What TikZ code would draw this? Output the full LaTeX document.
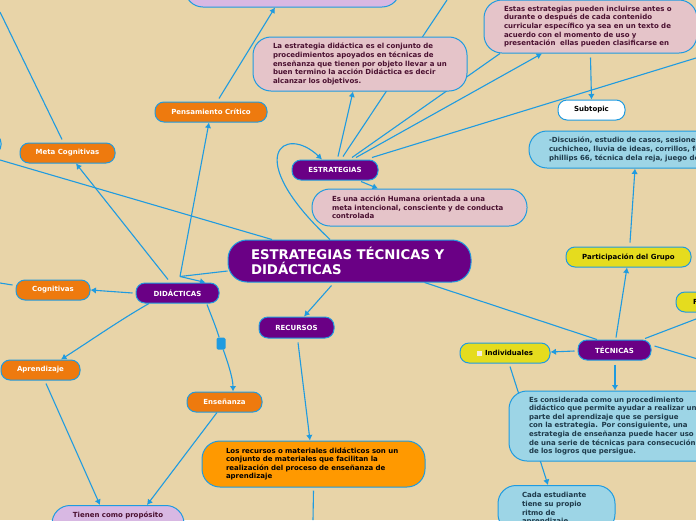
\documentclass[tikz,border=0pt]{standalone}
\usepackage{xcolor}
\usepackage{fontspec}
\setmainfont{DejaVu Sans}
\usetikzlibrary{arrows.meta,backgrounds}
\definecolor{paper}{HTML}{E8D4A8}
\definecolor{wire}{HTML}{1F9BE0}
\definecolor{morado}{HTML}{6A0085}
\definecolor{naranja}{HTML}{EE7A0E}
\definecolor{ambar}{HTML}{FF9900}
\definecolor{rosa}{HTML}{E5C4C9}
\definecolor{celeste}{HTML}{9DD5E6}
\definecolor{amarillo}{HTML}{E5DC1E}
\definecolor{lila}{HTML}{D8B8E3}
\definecolor{vino}{HTML}{4A1030}
\definecolor{pizarra}{HTML}{1E3A4A}
\tikzset{
  small/.style={draw=wire,line width=1pt,rounded corners=9pt,minimum height=20pt,inner sep=0pt,
    font=\fontsize{7}{8}\selectfont\bfseries,align=center},
  big/.style={draw=wire,line width=1pt,rounded corners=18pt,inner ysep=3pt,inner xsep=20pt,
    font=\fontsize{7}{8.6}\selectfont\bfseries,align=left},
  tema/.style={small,fill=morado,text=white},
  naranjo/.style={small,fill=naranja,text=white},
  amarillito/.style={small,fill=amarillo,text=black},
  link/.style={draw=wire,line width=1.1pt},
  arrowlink/.style={link,-{Latex[length=5.5pt,width=6.5pt]}}
}
\begin{document}
\begin{tikzpicture}[x=1pt,y=-1pt]
\useasboundingbox (0,0) rectangle (696,520);
\node[big,fill=morado,text=white,rounded corners=19pt,inner xsep=23pt,text width=197pt,minimum height=42pt,
  font=\fontsize{13.3}{15.5}\selectfont\bfseries] (root) at (349.5,261) {ESTRATEGIAS TÉCNICAS Y\\DIDÁCTICAS};
\node[tema,minimum width=86pt] (estrategias) at (335,170) {ESTRATEGIAS};
\node[tema,minimum width=83pt] (didacticas) at (177.5,293) {DIDÁCTICAS};
\node[tema,minimum width=75pt,minimum height=21pt] (recursos) at (296.5,327.5) {RECURSOS};
\node[tema,minimum width=73pt] (tecnicas) at (614.5,350) {TÉCNICAS};
\node[big,fill=rosa,text=vino,text width=175pt,minimum height=37pt] (accion) at (419.5,207.5)
  {Es una acción Humana orientada a una\\meta intencional, consciente y de conducta\\controlada};
\node[big,fill=rosa,text=vino,text width=174pt,minimum height=54pt] (concepto) at (360,64)
  {La estrategia didáctica es el conjunto de\\procedimientos apoyados en técnicas de\\enseñanza que tienen por objeto llevar a un\\buen termino la acción Didáctica es decir\\alcanzar los objetivos.};
\node[big,fill=rosa,text=vino,text width=173pt,minimum height=53pt] (momento) at (590.5,26.5)
  {Estas estrategias pueden incluirse antes o\\durante o después de cada contenido\\curricular específico ya sea en un texto de\\acuerdo con el momento de uso y\\presentación\ \ ellas pueden clasificarse en};
\node[small,fill=white,text=black,minimum width=67pt] (subtopic) at (591.5,110) {Subtopic};
\node[big,fill=celeste,text=pizarra,text width=202pt,minimum height=37pt] (discusion) at (650,149.5)
  {-Discusión, estudio de casos, sesiones\\cuchicheo, lluvia de ideas, corrillos, fo\\phillips 66, técnica dela reja, juego de};
\node[big,fill=lila,minimum width=215pt,minimum height=47pt,text width=175pt] (cima) at (292.5,-16.5) {};
\node[small,fill=celeste,minimum width=51pt] (borde) at (-24.5,144) {};
\node[naranjo,minimum width=112pt] (pensamiento) at (211,112) {Pensamiento Crítico};
\node[naranjo,minimum width=95pt] (meta) at (67.5,153) {Meta Cognitivas};
\node[naranjo,minimum width=74pt] (cognitivas) at (53,290) {Cognitivas};
\node[naranjo,minimum width=79pt] (aprendizaje) at (40.5,370) {Aprendizaje};
\node[naranjo,minimum width=75pt] (ensenanza) at (224.5,402) {Enseñanza};
\node[big,anchor=north,fill=lila,text=vino,inner xsep=0pt,inner ysep=6pt,text width=132pt,align=center,text depth=30pt] (proposito) at (118,505) {Tienen como propósito};
\node[big,fill=ambar,text=black,inner xsep=24pt,text width=175pt,minimum height=46pt] (material) at (313.5,464)
  {Los recursos o materiales didácticos son un\\conjunto de materiales que facilitan la\\realización del proceso de enseñanza de\\aprendizaje};
\node[amarillito,minimum width=90pt] (individuales) at (505,353) {\hspace{8pt}Individuales};
\node[draw=none,fill=paper!40!white,minimum size=5pt,inner sep=0pt] (icono) at (479.5,353) {};
\node[amarillito,minimum width=125pt] (participacion) at (628.5,257) {Participación del Grupo};
\node[amarillito,minimum width=94pt,text width=60pt,align=left] (grupof) at (723,302) {F};
\node[big,fill=celeste,text=pizarra,text width=220pt,minimum height=70pt] (considerada) at (639,426)
  {Es considerada como un procedimiento\\didáctico que permite ayudar a realizar un\\parte del aprendizaje que se persigue\\con la estrategia. Por consiguiente, una\\estrategia de enseñanza puede hacer uso\\de una serie de técnicas para consecución\\de los logros que persigue.};
\node[big,anchor=north,fill=celeste,text=pizarra,inner xsep=24pt,inner ysep=7pt,text width=69pt] (estudiante) at (556.5,485)
  {Cada estudiante\\tiene su propio\\ritmo de\\aprendizaje};
\node[fill=wire,rounded corners=1.5pt,minimum width=9pt,minimum height=12pt,inner sep=0pt] (tramo) at (221,343.5) {};
\coordinate (codo) at (180,276.5);
\coordinate (fueraSup) at (447,0);
\coordinate (fueraIzq) at (0,160);
\coordinate (fueraMeta) at (0,12);
\coordinate (fueraCog) at (0,283);
\coordinate (fueraDer) at (696,58);
\coordinate (fueraTec) at (696,358.5);
\coordinate (fueraF) at (696,319);
\coordinate (fueraInf) at (313,520);
\begin{scope}[on background layer]
\fill[paper] (0,0) rectangle (696,520);
\draw[arrowlink] ([xshift=-19.5pt]root.north) .. controls (240,155) and (285,124) .. ([xshift=-13pt]estrategias.north);
\draw[link] ([yshift=-10pt]root.west) -- (codo);
\draw[arrowlink] (codo) -- ([xshift=28pt]didacticas.north);
\draw[arrowlink] ([xshift=-18pt,yshift=-3pt]root.south) -- ([xshift=7.5pt]recursos.north);
\draw[link] ([xshift=75pt]root.south) -- ([xshift=-17.5pt]tecnicas.north);
\draw[link] ([xshift=-77.5pt]root.north) -- (fueraIzq);
\draw[arrowlink] (codo) -- ([xshift=-2pt]pensamiento.south);
\draw[arrowlink] ([xshift=-9.5pt,yshift=3pt]didacticas.north) -- ([xshift=8.5pt]meta.south);
\draw[arrowlink] ([xshift=-3pt]didacticas.west) -- (cognitivas.east);
\draw[arrowlink] ([xshift=-28.5pt]didacticas.south) .. controls (120,320) and (90,341) .. ([xshift=20.5pt]aprendizaje.north);
\draw[link] ([xshift=29.5pt,yshift=-1pt]didacticas.south) .. controls (211,315) and (216,327) .. (tramo);
\draw[arrowlink] (tramo) .. controls (227,360) and (233,378) .. ([xshift=8.5pt]ensenanza.north);
\draw[arrowlink] ([xshift=-7.5pt]ensenanza.south) -- ([xshift=29pt]proposito.north);
\draw[arrowlink] ([xshift=5.5pt,yshift=-3pt]aprendizaje.south) -- ([xshift=-18pt]proposito.north);
\draw[arrowlink] ([xshift=1.5pt,yshift=-4pt]recursos.south) -- ([xshift=-3.5pt]material.north);
\draw[link] ([yshift=-3pt]material.south) -- (fueraInf);
\draw[arrowlink] ([xshift=8pt,yshift=3pt]pensamiento.north) -- ([xshift=-17.5pt]cima.south);
\draw[link] ([xshift=-5.5pt,yshift=3pt]meta.north) -- (fueraMeta);
\draw[link] ([xshift=-3pt,yshift=5pt]cognitivas.west) -- (fueraCog);
\draw[arrowlink] ([xshift=3pt,yshift=3pt]estrategias.north) -- ([xshift=-7pt]concepto.south);
\draw[link] ([xshift=8pt,yshift=3pt]estrategias.north) -- (fueraSup);
\draw[link] ([xshift=17pt,yshift=2pt]estrategias.north) -- ([xshift=-90.5pt]momento.south);
\draw[arrowlink] ([xshift=21pt,yshift=2pt]estrategias.north) -- ([xshift=-48.5pt]momento.south);
\draw[link] ([xshift=37pt,yshift=2pt]estrategias.north) -- (fueraDer);
\draw[arrowlink] ([xshift=26pt,yshift=-1pt]estrategias.south) -- ([xshift=-41.5pt]accion.north);
\draw[arrowlink] ([yshift=-4pt]momento.south) -- (subtopic.north);
\draw[arrowlink] ([xshift=1.5pt,yshift=4pt]participacion.north) -- ([xshift=-15pt]discusion.south);
\draw[arrowlink] ([xshift=1.5pt,yshift=2pt]tecnicas.north) -- ([xshift=-1.5pt]participacion.south);
\draw[link] ([xshift=30.5pt,yshift=1pt]tecnicas.north) -- (fueraF);
\draw[link] ([xshift=3pt,yshift=4pt]tecnicas.east) -- (fueraTec);
\draw[arrowlink] ([xshift=-3pt,yshift=-1pt]tecnicas.west) -- ([yshift=1pt]individuales.east);
\draw[arrowlink] ([xshift=0.5pt,yshift=-4pt]tecnicas.south) -- ([xshift=-24pt]considerada.north);
\draw[arrowlink] ([xshift=5pt,yshift=-3pt]individuales.south) -- ([xshift=-8.5pt]estudiante.north);
\end{scope}
\end{tikzpicture}
\end{document}
